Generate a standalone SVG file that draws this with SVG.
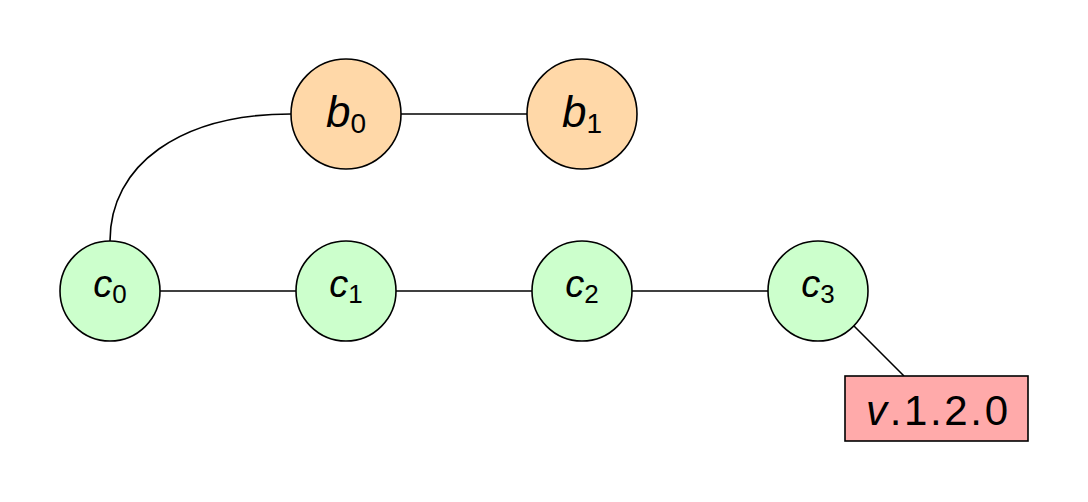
<svg xmlns="http://www.w3.org/2000/svg" width="1088" height="502" viewBox="0 0 1088 502">
<style>
.n{stroke:#000;stroke-width:1.6}
.b{fill:#ffd8a8}
.c{fill:#ccffcc}
.t{fill:#ffaaaa}
.e{fill:none;stroke:#000;stroke-width:1.6}
text{font-family:"Liberation Sans",Arial,sans-serif;fill:#000;text-anchor:middle}
.v{font-style:italic}
</style>
<rect width="1088" height="502" fill="#fff"/>
<g id="edges">
<path class="e" d="M110,241 C110,165 180,114 291,114"/>
<line class="e" x1="401" y1="114" x2="527" y2="114"/>
<line class="e" x1="160" y1="291" x2="296" y2="291"/>
<line class="e" x1="396" y1="291" x2="532" y2="291"/>
<line class="e" x1="632" y1="291" x2="768" y2="291"/>
<line class="e" x1="854" y1="326" x2="904" y2="376"/>
</g>
<g id="b0"><circle class="n b" cx="346" cy="114" r="55"/><text x="346" y="127" font-size="44"><tspan class="v">b</tspan><tspan font-size="28" dy="6">0</tspan></text></g>
<g id="b1"><circle class="n b" cx="582" cy="114" r="55"/><text x="582" y="127" font-size="44"><tspan class="v">b</tspan><tspan font-size="28" dy="6">1</tspan></text></g>
<g id="c0"><circle class="n c" cx="110" cy="291" r="50"/><text x="110" y="297" font-size="38"><tspan class="v">c</tspan><tspan font-size="26" dy="6">0</tspan></text></g>
<g id="c1"><circle class="n c" cx="346" cy="291" r="50"/><text x="346" y="297" font-size="38"><tspan class="v">c</tspan><tspan font-size="26" dy="6">1</tspan></text></g>
<g id="c2"><circle class="n c" cx="582" cy="291" r="50"/><text x="582" y="297" font-size="38"><tspan class="v">c</tspan><tspan font-size="26" dy="6">2</tspan></text></g>
<g id="c3"><circle class="n c" cx="818" cy="291" r="50"/><text x="818" y="297" font-size="38"><tspan class="v">c</tspan><tspan font-size="26" dy="6">3</tspan></text></g>
<g id="tag"><rect class="n t" x="845" y="376" width="183" height="65"/><text x="866" y="425" font-size="42" style="text-anchor:start" textLength="142" lengthAdjust="spacing"><tspan class="v">v</tspan>.1.2.0</text></g>
</svg>
